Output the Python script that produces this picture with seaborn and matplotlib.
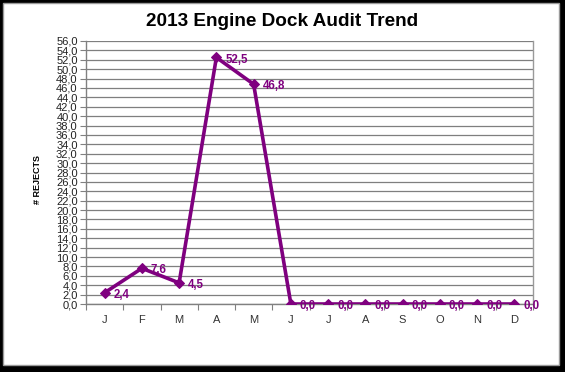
import matplotlib
matplotlib.use("Agg")
import matplotlib.pyplot as plt
import seaborn as sns
import pandas as pd
from matplotlib.patches import Rectangle
from matplotlib.ticker import FuncFormatter, FixedLocator

months = ["J", "F", "M", "A", "M ", "J ", "J  ", "A ", "S", "O", "N", "D"]
month_labels = ["J", "F", "M", "A", "M", "J", "J", "A", "S", "O", "N", "D"]
rejects = [2.4, 7.6, 4.5, 52.5, 46.8, 0.0, 0.0, 0.0, 0.0, 0.0, 0.0, 0.0]
title = "2013 Engine Dock Audit Trend"
ylabel = "# REJECTS"

sns.set_theme(style="white")
plt.rcParams["font.family"] = ["Liberation Sans", "DejaVu Sans"]

purple = "#7F007F"
df = pd.DataFrame({"month": months, "rejects": rejects})

fig = plt.figure(figsize=(5.65, 3.72), dpi=100)
fig.patch.set_facecolor("black")
W, H = 565, 372
# white card with gray edge
fig.add_artist(Rectangle((3 / W, 7 / H), 556 / W, 362 / H, transform=fig.transFigure,
                         facecolor="white", edgecolor="#9a9a9a", linewidth=1.0, zorder=0))

ax = fig.add_axes([86 / W, 1 - 304 / H, 447 / W, 263 / H])
ax.set_facecolor("white")

sns.lineplot(data=df, x="month", y="rejects", ax=ax, color=purple, linewidth=2.6,
             marker="D", markersize=5, markeredgecolor=purple, sort=False, zorder=5)

for i, v in enumerate(rejects):
    ax.annotate(f"{v:.1f}".replace(".", ","), (i, v), xytext=(6.5, -1.5),
                textcoords="offset points", ha="left", va="center",
                color=purple, fontsize=8.3, fontweight="bold", zorder=6, clip_on=False)

ax.set_xlim(-0.5, 11.5)
ax.set_ylim(0, 56)
ax.yaxis.set_major_locator(FixedLocator([i * 2 for i in range(29)]))
ax.yaxis.set_major_formatter(FuncFormatter(lambda v, p: f"{v:.1f}".replace(".", ",")))
ax.set_xticks(range(12))
ax.set_xticklabels(month_labels)
ax.xaxis.set_minor_locator(FixedLocator([i - 0.5 for i in range(13)]))
ax.tick_params(axis="x", which="major", length=0, pad=8, labelsize=8, colors="#333333")
ax.tick_params(axis="x", which="minor", length=4, width=0.8, color="#808080", direction="out", bottom=True)
ax.tick_params(axis="y", which="major", length=4, width=0.8, color="#808080", direction="out",
               left=True, pad=2, labelsize=8, labelcolor="#222222")

ax.grid(axis="y", color="#7f7f7f", linewidth=0.9)
ax.set_axisbelow(True)
for s in ["left", "bottom"]:
    ax.spines[s].set_color("#808080")
    ax.spines[s].set_linewidth(1.0)
ax.spines["right"].set_color("#9a9a9a")
ax.spines["right"].set_linewidth(1.0)
ax.spines["top"].set_visible(False)
ax.set_xlabel("")
ax.set_ylabel("")

fig.text(282 / W, 1 - 22 / H, title, ha="center", va="center", fontsize=13.7, fontweight="bold", color="black")
fig.text(38 / W, 1 - 180 / H, ylabel, ha="center", va="center", rotation=90, fontsize=6.5,
         fontweight="bold", color="black")

fig.savefig("out.png", dpi=100, facecolor=fig.get_facecolor())
